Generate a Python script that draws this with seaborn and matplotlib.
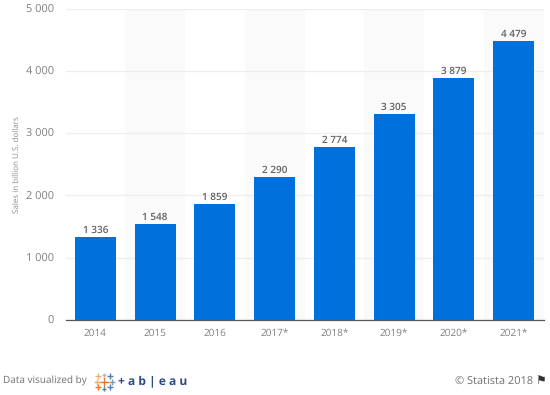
import pandas as pd
import matplotlib.pyplot as plt
import seaborn as sns
from matplotlib.lines import Line2D

years = ["2014", "2015", "2016", "2017*", "2018*", "2019*", "2020*", "2021*"]
sales = [1336, 1548, 1859, 2290, 2774, 3305, 3879, 4479]
y_ticks = [0, 1000, 2000, 3000, 4000, 5000]

# tableau logo crosses: x px, y px, colour, size
logo_marks = [
    (104, 381.5, "#e8762d", 7), (96.5, 381.5, "#f0b070", 4), (111.5, 381.5, "#7f9fb5", 4),
    (104, 374.5, "#a9bccb", 3.5), (104, 388.5, "#5b7ea8", 3.5), (98, 376, "#ecae7a", 4),
    (110, 376, "#5b7ea8", 4), (98, 387, "#e8762d", 4), (110, 387, "#5b7ea8", 4),
]


def spaced(v):
    return f"{v:,}".replace(",", " ")


sns.set_theme(style="white")
plt.rcParams["font.family"] = ["Open Sans", "DejaVu Sans"]
plt.rcParams["text.hinting"] = "no_hinting"
plt.rcParams["text.hinting_factor"] = 1

df = pd.DataFrame({"year": years, "sales": sales})

fig = plt.figure(figsize=(5.5, 3.95), dpi=100)
ax = fig.add_axes([65.5 / 550, 1 - 320 / 395, 478 / 550, 311.5 / 395])

for i in range(len(years)):
    if i % 2 == 1:
        ax.axvspan(i - 0.5, i + 0.5, color="#fafafa", lw=0, zorder=0)

sns.barplot(data=df, x="year", y="sales", color="#0070dc", saturation=1, width=0.69,
            linewidth=0, ax=ax, zorder=3)

ax.set_xlim(-0.5, len(years) - 0.5)
ax.set_ylim(0, 5000)
ax.set_yticks(y_ticks)
ax.set_yticklabels([spaced(v) for v in y_ticks])
ax.yaxis.grid(True, color="#eeeeee", lw=0.9, zorder=1)
ax.xaxis.grid(False)
ax.set_axisbelow(True)
ax.tick_params(axis="x", length=0, labelsize=7.2, labelcolor="#808080", pad=6)
ax.tick_params(axis="y", length=0, labelsize=7.8, labelcolor="#808080", pad=8.5)
ax.set_xlabel("")
ax.set_ylabel("Sales in billion U.S. dollars", fontsize=6.1, color="#8c8c8c")
ax.yaxis.set_label_coords(-44.5 / 478, 0.5)

for s in ["top", "right", "left"]:
    ax.spines[s].set_visible(False)
ax.spines["bottom"].set_color("#555555")
ax.spines["bottom"].set_linewidth(0.9)

for i, v in enumerate(sales):
    ax.annotate(spaced(v), (i, v), xytext=(0, 1.2), textcoords="offset points", ha="center", va="bottom",
                fontsize=7, fontweight="semibold", color="#606060", zorder=4)

fig.text(3 / 550, 1 - 381.5 / 395, "Data visualized by", fontsize=7.3, color="#707070", va="center")
for x, y, c, s in logo_marks:
    fig.add_artist(Line2D([x / 550], [1 - y / 395], transform=fig.transFigure, marker="+", color=c,
                          markersize=s, markeredgewidth=1.0))
fig.text(118 / 550, 1 - 381.5 / 395, "+ a b | e a u", fontsize=8.6, fontweight="bold", color="#2a4a80", va="center")
fig.text(533 / 550, 1 - 381.5 / 395, "© Statista 2018", fontsize=7.6, color="#707070", ha="right", va="center")
fig.text(536 / 550, 1 - 381 / 395, "⚑", fontsize=8.5, color="#333333", ha="left", va="center")

fig.savefig("out.png", dpi=100)
